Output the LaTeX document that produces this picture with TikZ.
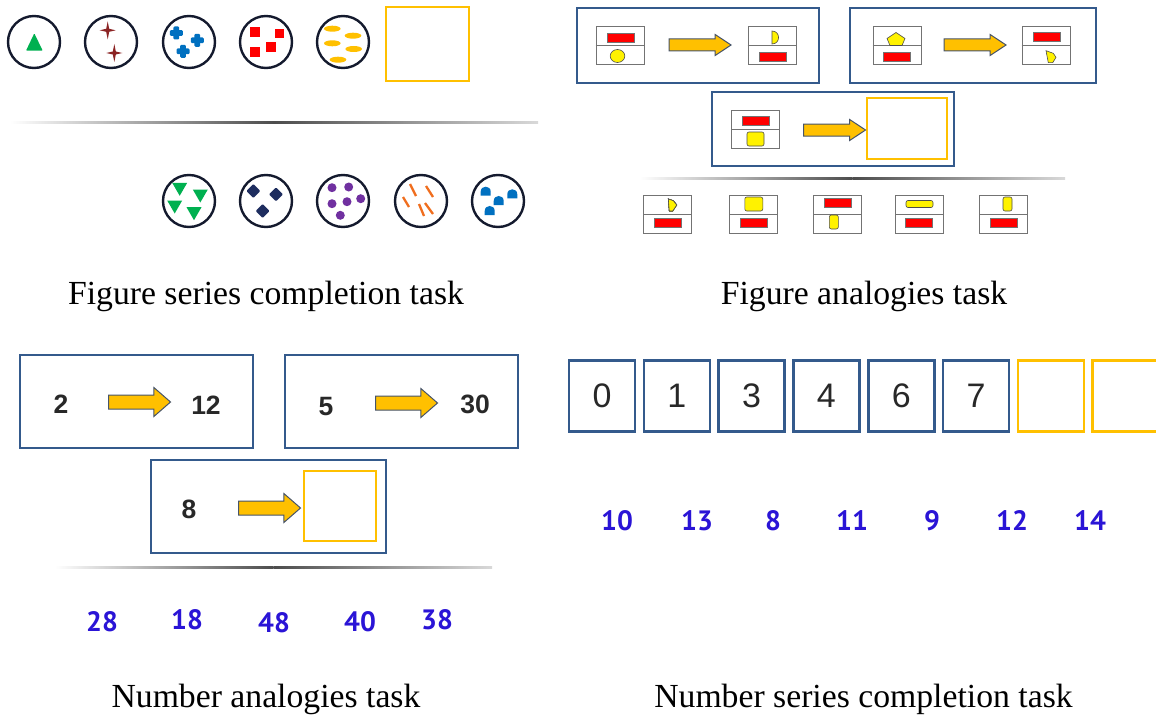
\documentclass[tikz,border=0pt]{standalone}
\usepackage{fontspec}
\setmainfont{Liberation Serif}
\newfontfamily\arialfont{Liberation Sans}
\newfontfamily\pickfont{PT Sans}
\usetikzlibrary{shapes.arrows}

\definecolor{frameblue}{RGB}{52,90,140}
\definecolor{gapgold}{RGB}{255,192,0}
\definecolor{ringnavy}{RGB}{20,26,46}
\definecolor{pickblue}{RGB}{42,20,214}
\definecolor{arrowedge}{RGB}{70,84,106}
\definecolor{crossblue}{RGB}{0,112,192}
\definecolor{starred}{RGB}{140,36,36}
\definecolor{leafgreen}{RGB}{0,176,80}
\definecolor{gemnavy}{RGB}{30,45,95}
\definecolor{grape}{RGB}{112,48,160}
\definecolor{rust}{RGB}{240,110,30}
\definecolor{digitgray}{RGB}{40,40,40}

\tikzset{
  ring/.style={circle,draw=ringnavy,line width=2.4pt,minimum size=52pt,inner sep=0pt},
  gapbox/.style={draw=gapgold,line width=2.2pt,inner sep=0pt},
  taskbox/.style={draw=frameblue,line width=1.8pt,inner sep=0pt},
  seqbox/.style={draw=frameblue,line width=2.6pt,minimum width=66pt,minimum height=71pt,inner sep=0pt,
    font=\arialfont\fontsize{34}{36}\selectfont,text=digitgray},
  card/.style={draw=black!55,line width=1pt,minimum width=48pt,minimum height=38pt,inner sep=0pt},
  redbit/.style={fill=red,draw=black!55,line width=0.6pt},
  yellowbit/.style={fill=yellow,draw=black!70,line width=0.6pt},
  fatarrow/.style={single arrow,single arrow head extend=4.5pt,single arrow tip angle=67,
    fill=gapgold,draw=arrowedge,line width=1pt,minimum height=62pt,inner sep=5.5pt},
  bigarrow/.style={fatarrow,single arrow head extend=7.5pt,single arrow tip angle=82,inner sep=6.5pt},
  caption/.style={font=\fontsize{33.7}{40}\selectfont,anchor=base},
  pick/.style={font=\pickfont\bfseries\fontsize{28}{30}\selectfont,text=pickblue,anchor=base},
  given/.style={font=\arialfont\bfseries\fontsize{26.5}{30}\selectfont,text=digitgray,anchor=base},
}

% small drawing helpers (x, y in pixels)
\newcommand\card[3]{\node[card] (#1) at (#2,#3) {};
  \draw[black!55,line width=1pt] (#1.west) -- (#1.east);}
\newcommand\redbar[2]{\draw[redbit] (#1-13.5,#2-4.5) rectangle (#1+13.5,#2+4.5);}
\newcommand\yblock[4]{\draw[yellowbit,rounded corners=2pt] (#1-#3/2,#2-#4/2) rectangle (#1+#3/2,#2+#4/2);}
\newcommand\sparkle[2]{\fill[starred] (#1,#2-9) -- (#1+1.5,#2-1.5) -- (#1+8,#2) -- (#1+1.5,#2+1.5)
  -- (#1,#2+9) -- (#1-1.5,#2+1.5) -- (#1-8,#2) -- (#1-1.5,#2-1.5) -- cycle;}
\newcommand\blob[2]{\fill[crossblue,rounded corners=1.2pt] (#1-2.9,#2-6.5) rectangle (#1+2.9,#2+6.5);
  \fill[crossblue,rounded corners=1.2pt] (#1-6.5,#2-2.9) rectangle (#1+6.5,#2+2.9);}
\newcommand\dome[2]{\fill[crossblue] (#1-5,#2+4) -- (#1-5,#2) .. controls (#1-5,#2-6.7) and (#1+5,#2-6.7) .. (#1+5,#2) -- (#1+5,#2+4) -- cycle;}
\newcommand\fadeline[3]{%
  \shade[left color=white,right color=black!70] (#1,#3-1) rectangle ({(#1+#2)/2},#3+1);
  \shade[left color=black!70,right color=black!15] ({(#1+#2)/2},#3-1) rectangle (#2,#3+1);}

\begin{document}
\begin{tikzpicture}[x=1pt,y=-1pt]
  \useasboundingbox[fill=white] (0,0) rectangle (1156,717);
  %
  % Figure series completion
  \foreach \cx [count=\i] in {34,111,189,266,343} \node[ring] (top\i) at (\cx,42) {};
  \fill[leafgreen,rounded corners=0.8pt] (34.3,33.3) -- (42.7,50.7) -- (26,50.7) -- cycle;
  \sparkle{107.7}{30.3} \sparkle{114.3}{53}
  \foreach \dx/\dy in {-12.7/-9,8.3/-1.7,-6/9.3} {\blob{189+\dx}{42+\dy}}
  \foreach \dx/\dy in {-11/-10,13.3/-8.3,4.7/5.3,-11/10.3}
    \fill[red] (266+\dx-4.8,42+\dy-4.8) rectangle (266+\dx+4.8,42+\dy+4.8);
  \foreach \dx/\dy in {-10.7/-13.3,10/-6.3,-10.7/1.3,10.7/7,-5/17.7}
    \fill[gapgold] (343+\dx,42+\dy) ellipse [x radius=8.3,y radius=3];
  \node[gapbox,minimum width=83pt,minimum height=74pt] (gap0) at (427.5,44) {};
  \fadeline{10}{538}{122}
  %
  \foreach \cx [count=\i] in {189,266,343,421,498} \node[ring] (low\i) at (\cx,201) {};
  \foreach \dx/\dy in {-9.3/-11.7,11.3/-5,-14.3/6,5/12.7}
    \fill[leafgreen] (189+\dx-7.5,201+\dy-6.5) -- (189+\dx+7.5,201+\dy-6.5) -- (189+\dx,201+\dy+6.5) -- cycle;
  \foreach \dx/\dy in {-12.7/-10,10/-6.7,-3.3/10}
    \fill[gemnavy,rounded corners=1pt] (266+\dx,201+\dy-7) -- (266+\dx+7,201+\dy) -- (266+\dx,201+\dy+7) -- (266+\dx-7,201+\dy) -- cycle;
  \foreach \dx/\dy in {-11/-13.3,5.7/-14,-11/2.7,4/0.7,17.7/-2.3,-2.7/14.3}
    \fill[grape] (343+\dx,201+\dy) circle (4.5);
  \foreach \ax/\ay/\bx/\by in {-11/-18/-5/-6,5/-16/12/-5,-18/-5/-12/5,-2/2/3/14,4/1/12/12}
    \draw[rust,line width=2.3pt] (421+\ax,202+\ay) -- (421+\bx,202+\by);
  \dome{485.7}{191.7} \dome{498.7}{201} \dome{512.3}{194.3} \dome{489.7}{211}
  %
  \node[caption] (cap1) at (266,304) {Figure series completion task};
  %
  % Figure analogies
  \node[taskbox,minimum width=242pt,minimum height=75pt] (fa1) at (698,45.5) {};
  \node[taskbox,minimum width=246pt,minimum height=75pt] (fa2) at (973,45.5) {};
  \node[taskbox,minimum width=242pt,minimum height=74pt] (fa3) at (833,129) {};
  \node[gapbox,minimum width=80pt,minimum height=61pt,line width=1.8pt] (gap1) at (907,128.5) {};
  \node[fatarrow] (farr1) at (695.5,45) {};
  \node[fatarrow] (farr2) at (970.5,45) {};
  \node[fatarrow] (farr3) at (830,130) {};
  %
  \card{c1}{620}{46}
  \redbar{620.5}{37.5}
  \draw[yellowbit] (617.5,56) ellipse [x radius=7.3,y radius=6.5];
  \card{c2}{772}{46}
  \draw[yellowbit] (772,31) .. controls (780.7,31) and (780.7,44) .. (772,44) -- cycle;
  \redbar{772.5}{57}
  \card{c3}{897}{46}
  \draw[yellowbit] (896,32.5) -- (905,38.5) -- (902,45.5) -- (890,45.5) -- (887,38.5) -- cycle;
  \redbar{896.5}{56.5}
  \card{c4}{1046}{46}
  \redbar{1046.5}{37}
  \draw[yellowbit] (1046,50.7) -- (1053.3,53.3) -- (1056,57.3) -- (1052.7,62.7) -- (1048.3,62.7) -- cycle;
  \card{c5}{755.5}{129.5}
  \redbar{755.5}{120.5}
  \yblock{755.5}{139}{17}{14}
  \fadeline{640}{1065}{178}
  %
  \foreach \cx [count=\i] in {667.5,753.5,837.5,919.5,1003.5} \card{opt\i}{\cx}{214}
  \draw[yellowbit] (668.3,199) -- (673.3,200.7) -- (676.7,205) -- (672.7,211) -- (669.3,211) -- cycle;
  \redbar{667.5}{223}
  \yblock{753.8}{204}{18}{14} \redbar{754}{223}
  \redbar{838}{203} \yblock{833.8}{222}{9}{14}
  \yblock{919.5}{204}{27}{7} \redbar{919}{223}
  \yblock{1007.5}{204}{9}{14} \redbar{1004}{223}
  %
  \node[caption] (cap2) at (864,304) {Figure analogies task};
  %
  % Number analogies
  \node[taskbox,minimum width=233pt,minimum height=93pt] (na1) at (136.5,401.5) {};
  \node[taskbox,minimum width=233pt,minimum height=93pt] (na2) at (401.5,401.5) {};
  \node[taskbox,minimum width=235pt,minimum height=93pt] (na3) at (268.5,506.5) {};
  \node[gapbox,minimum width=72pt,minimum height=70pt,line width=1.8pt] (gap2) at (340,506) {};
  \node[given] (n2) at (61,413) {2};
  \node[given] (n12) at (206,414) {12};
  \node[given] (n5) at (326,415) {5};
  \node[given] (n30) at (475,413) {30};
  \node[given] (n8) at (189,518) {8};
  \node[bigarrow] (narr1) at (135.5,402) {};
  \node[bigarrow] (narr2) at (402.5,403) {};
  \node[bigarrow] (narr3) at (265.5,508) {};
  \fadeline{55}{492}{567}
  \node[pick] (p28) at (102,631) {28};
  \node[pick] (p18) at (187,629) {18};
  \node[pick] (p48) at (274,632) {48};
  \node[pick] (p40) at (360,631) {40};
  \node[pick] (p38) at (437,629) {38};
  \node[caption] (cap3) at (266,707) {Number analogies task};
  %
  % Number series completion
  \foreach \d [count=\i] in {0,1,3,4,6,7} \node[seqbox] (s\i) at ({527.2+74.8*\i},396) {\d};
  \foreach \i in {7,8} \node[seqbox,draw=gapgold] (s\i) at ({527.2+74.8*\i},396) {};
  \foreach \v/\px in {10/617,13/697,8/773,11/852,9/932,12/1012,14/1090}
    \node[pick] (q\v) at (\px,530) {\v};
  \node[caption] (cap4) at (863.5,707) {Number series completion task};
\end{tikzpicture}
\end{document}
